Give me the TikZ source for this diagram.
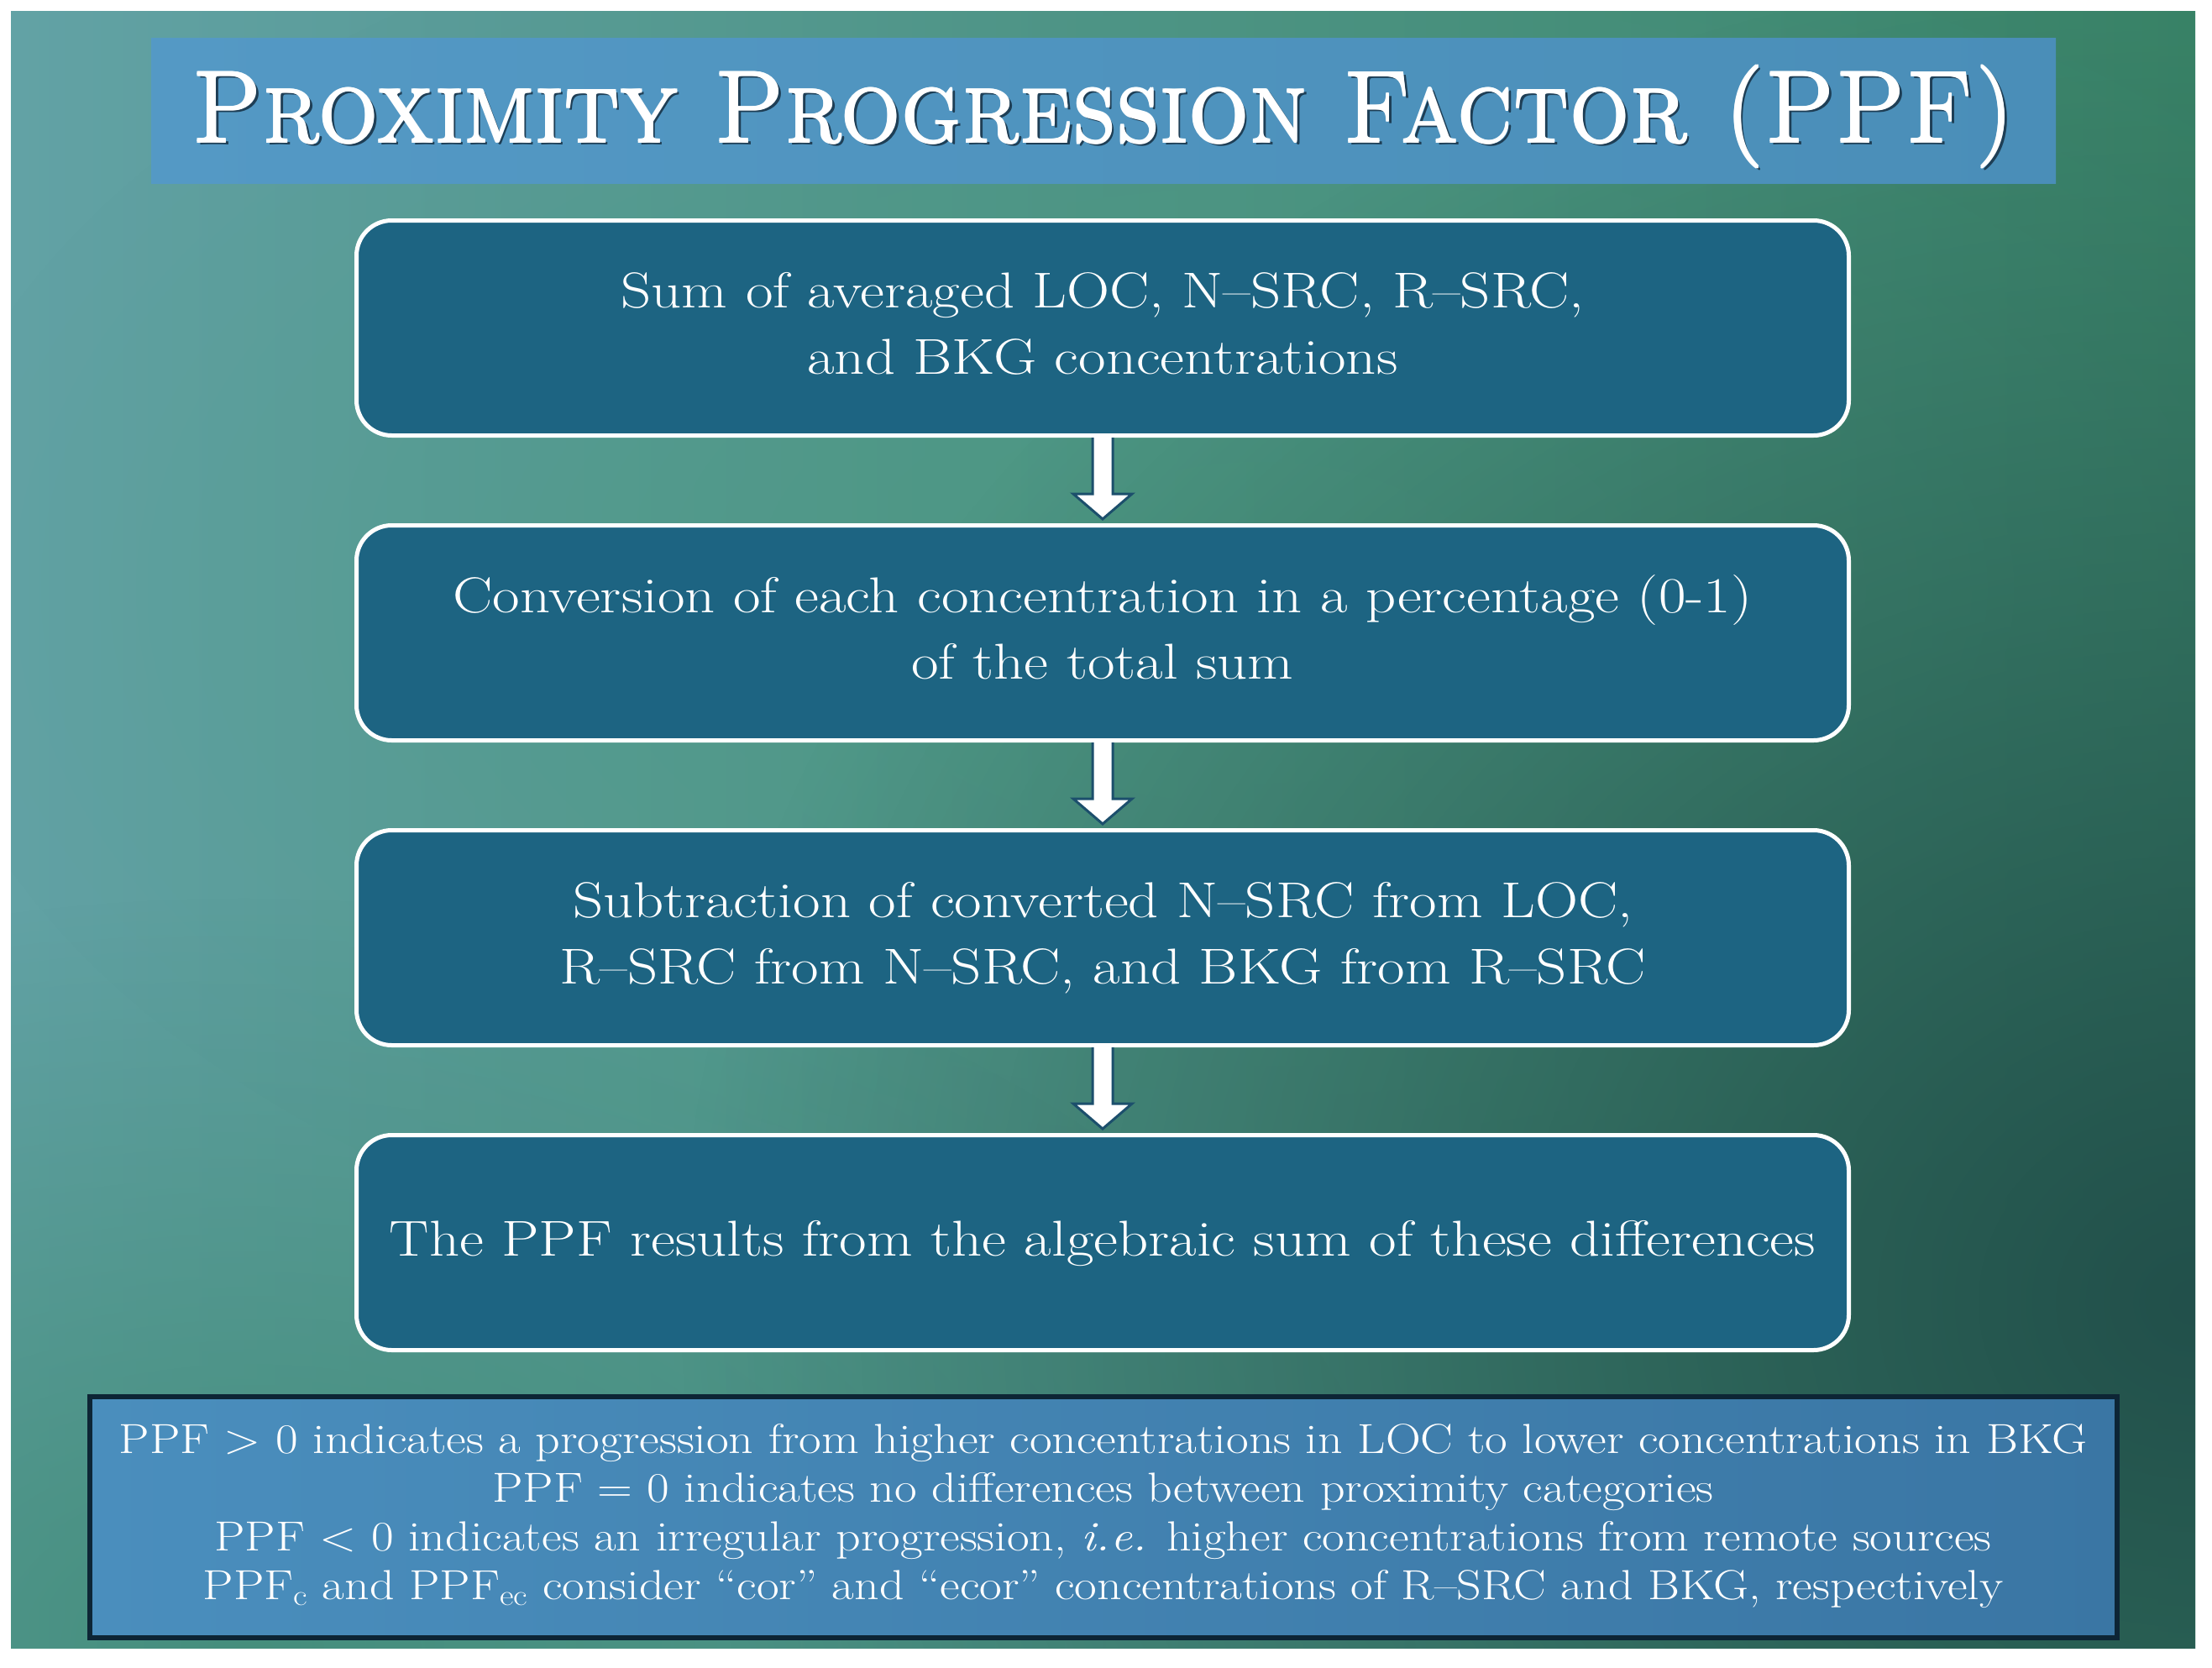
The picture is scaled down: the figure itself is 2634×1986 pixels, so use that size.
\documentclass[tikz,border=0pt]{standalone}
\usepackage{fontspec}
\usetikzlibrary{fadings,calc}
\definecolor{bgL}{HTML}{62A2A5}
\definecolor{bgR}{HTML}{3A8568}
\definecolor{bgDark}{HTML}{22504B}
\definecolor{bgMid}{HTML}{4C9A80}
\definecolor{bgGreen}{HTML}{3F8A74}
\definecolor{boxfill}{HTML}{1D6482}
\definecolor{titleL}{HTML}{5499C5}
\definecolor{titleR}{HTML}{4A8EB8}
\definecolor{noteL}{HTML}{4A8EBD}
\definecolor{noteR}{HTML}{3A76A4}
\definecolor{noteBorder}{HTML}{0D2535}
\definecolor{arrowBorder}{HTML}{1C4F6C}
\definecolor{shadowCol}{HTML}{1E3E55}
\tikzfading[name=radfade, inner color=transparent!0, outer color=transparent!100]
\newcommand\boxtext[1]{\scalebox{1.18}[1]{\begin{tabular}{@{}c@{}}#1\end{tabular}}}
\tikzset{
  stepbox/.style={draw=white, line width=5, fill=boxfill, rounded corners=42,
    minimum width=1777, minimum height=256, align=center, text=white,
    font=\fontsize{60}{79}\selectfont, inner sep=0pt},
  flowarrow/.style={fill=white, draw=arrowBorder, line width=3, line join=miter},
  titletext/.style={font=\fontsize{122}{130}\selectfont, inner sep=0pt},
  notebox/.style={draw=noteBorder, line width=6, left color=noteL, right color=noteR,
    minimum width=2414, minimum height=287, align=center, text=white,
    font=\fontsize{50}{58}\selectfont, inner sep=0pt}
}
\begin{document}
\begin{tikzpicture}[x=1pt,y=-1pt]
\useasboundingbox (0,0) rectangle (2634,1986);
\fill[white] (0,0) rectangle (2634,1986);
\begin{scope}
  \clip (13,13) rectangle (2614,1962);
  \shade[left color=bgL, right color=bgR] (13,13) rectangle (2614,1962);
  \fill[bgMid, path fading=radfade, opacity=0.6] (1500,700) ellipse (1600 and 900);
  \fill[bgGreen, path fading=radfade, opacity=0.8] (300,1962) ellipse (1400 and 900);
  \fill[bgDark, path fading=radfade] (2614,1550) ellipse (1800 and 1600);
\end{scope}
% title
\shade[left color=titleL, right color=titleR] (180,45) rectangle (2448,218);
\node[titletext, text=shadowCol] (titleshadow) at (1318,142) {\scalebox{0.93}[1]{\textsc{Proximity Progression Factor (PPF)}}};
\foreach \dx/\dy in {0/0,1.5/0,0/1.5,1.5/1.5}
  \node[titletext, text=white] at (1314+\dx,138+\dy) {\scalebox{0.93}[1]{\textsc{Proximity Progression Factor (PPF)}}};
% steps
\node[stepbox] (b1) at (1313,390.5) {\boxtext{Sum of averaged LOC, N--SRC, R--SRC,\\and BKG concentrations}};
\node[stepbox] (b2) at (1313,753.5) {\boxtext{Conversion of each concentration in a percentage (0-1)\\of the total sum}};
\node[stepbox] (b3) at (1313,1116.5) {\boxtext{Subtraction of converted N--SRC from LOC,\\R--SRC from N--SRC, and BKG from R--SRC}};
\node[stepbox] (b4) at (1313,1479.5) {\boxtext{The PPF results from the algebraic sum of these differences}};
\foreach \a/\b in {b1/b2,b2/b3,b3/b4}
  \draw[flowarrow] ($(\a.south)+(-12,0)$) -- ($(\b.north)+(-12,-35)$) -- ($(\b.north)+(-35,-35)$)
     -- ($(\b.north)+(0,-5)$) -- ($(\b.north)+(35,-35)$) -- ($(\b.north)+(12,-35)$) -- ($(\a.south)+(12,0)$);
% note
\node[notebox] (note) at (1313.5,1806) {\scalebox{1.16}[1]{\begin{tabular}{@{}c@{}}
PPF > 0 indicates a progression from higher concentrations in LOC to lower concentrations in BKG\\
PPF = 0 indicates no differences between proximity categories\\
PPF < 0 indicates an irregular progression, \textit{i.e.} higher concentrations from remote sources\\
PPF\textsubscript{c} and PPF\textsubscript{ec} consider “cor” and “ecor” concentrations of R--SRC and BKG, respectively
\end{tabular}}};
\end{tikzpicture}
\end{document}
